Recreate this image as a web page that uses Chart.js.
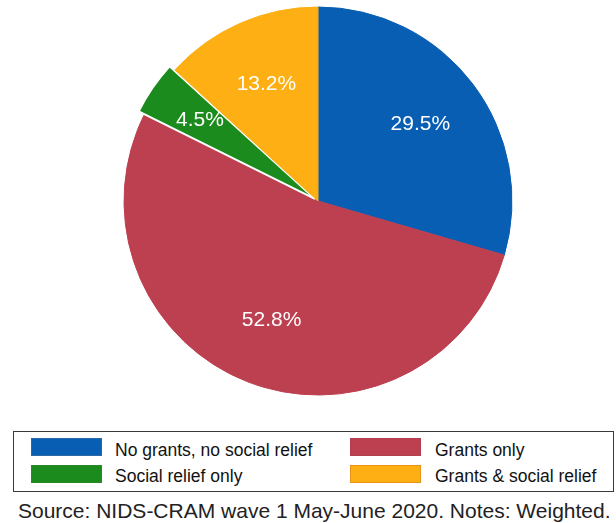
<!DOCTYPE html>
<html>
<head>
<meta charset="utf-8">
<script src="https://cdn.jsdelivr.net/npm/chart.js@4/dist/chart.umd.min.js"></script>
<style>
  body { margin: 0; background: #fff; font-family: "Liberation Sans", Arial, sans-serif; }
  #wrap { position: relative; width: 616px; height: 523px; }
  #pieBox { position: absolute; left: 0; top: 0; width: 616px; height: 420px; }
  #legend {
    position: absolute; left: 13px; top: 431px; width: 599px; height: 59px;
    border: 1px solid #3a3a3a;
  }
  .sw { position: absolute; width: 71px; height: 18px; box-sizing: border-box; border: 1px solid; }
  .txt { position: absolute; font-size: 17.5px; line-height: 18px; color: #111; white-space: nowrap; }
  #source { position: absolute; left: 18px; top: 500px; font-size: 21px; line-height: 21px; color: #222; white-space: nowrap; }
</style>
</head>
<body>
<div id="wrap">
  <div id="pieBox"><canvas id="pie"></canvas></div>
  <div id="legend"></div>
  <div id="source">Source: NIDS-CRAM wave 1 May-June 2020. Notes: Weighted.</div>
</div>
<script>
// values, in drawing order (clockwise from 12 o'clock)
const categories = ['No grants, no social relief', 'Grants only', 'Social relief only', 'Grants & social relief'];
const shares = [29.5, 52.8, 4.5, 13.2];
const colors = ['#085eb3', '#bd4050', '#1a8b1c', '#fdaf13'];
const edgeColors = ['#2a6aa8', '#b04050', '#2a8a2a', '#e8921a'];
const explode = [0, 0, 15, 0];

(function buildLegend() {
  const box = document.getElementById('legend');
  const colX = [[17, 101], [336, 421]];
  const rowY = [[6, 9], [33, 35]];
  categories.forEach((name, i) => {
    const col = i % 2, row = Math.floor(i / 2);
    const sw = document.createElement('div');
    sw.className = 'sw';
    sw.style.left = colX[col][0] + 'px';
    sw.style.top = rowY[row][0] + 'px';
    sw.style.background = colors[i];
    sw.style.borderColor = edgeColors[i];
    const t = document.createElement('div');
    t.className = 'txt';
    t.style.left = colX[col][1] + 'px';
    t.style.top = rowY[row][1] + 'px';
    t.textContent = name;
    box.appendChild(sw);
    box.appendChild(t);
  });
})();

// white percent labels inside each slice
const sliceLabels = {
  id: 'sliceLabels',
  afterDatasetsDraw(chart) {
    const ctx = chart.ctx;
    const meta = chart.getDatasetMeta(0);
    ctx.save();
    ctx.fillStyle = '#fff';
    ctx.font = '21px "Liberation Sans", Arial, sans-serif';
    ctx.textAlign = 'center';
    ctx.textBaseline = 'middle';
    meta.data.forEach((arc, i) => {
      const mid = (arc.startAngle + arc.endAngle) / 2;
      const r = arc.outerRadius * 0.66 + explode[i];
      ctx.fillText(shares[i].toFixed(1) + '%', arc.x + Math.cos(mid) * r, arc.y + Math.sin(mid) * r);
    });
    ctx.restore();
  }
};

new Chart(document.getElementById('pie'), {
  type: 'pie',
  data: {
    labels: categories,
    datasets: [{
      data: shares,
      backgroundColor: colors,
      borderColor: colors.map((c, i) => explode[i] ? '#fff' : c),
      borderWidth: explode.map(o => o ? 2 : 1),
      offset: explode
    }]
  },
  options: {
    responsive: true,
    maintainAspectRatio: false,
    animation: false,
    radius: 194,
    layout: { padding: { left: 20, top: 2, bottom: 20, right: 0 } },
    plugins: {
      legend: { display: false },
      tooltip: { enabled: false }
    }
  },
  plugins: [sliceLabels]
});
</script>
</body>
</html>
